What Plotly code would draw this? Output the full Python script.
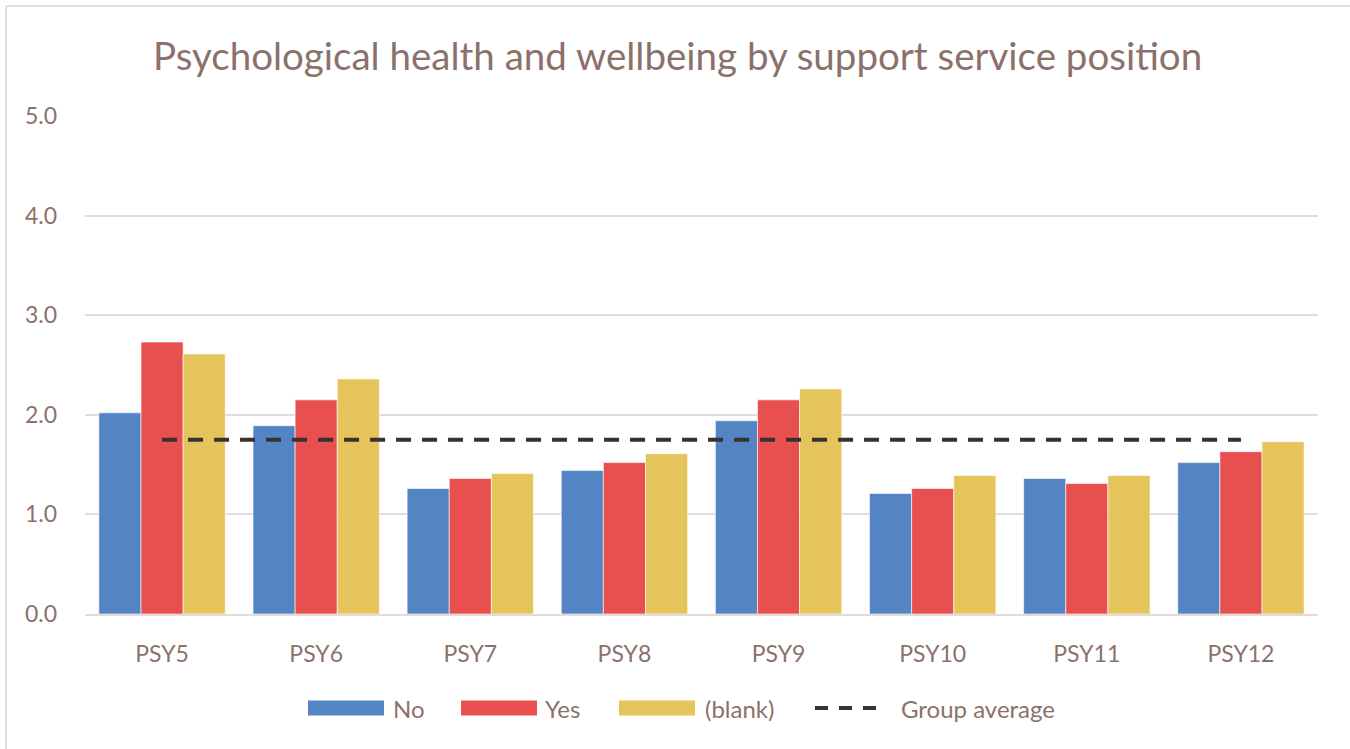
import plotly.graph_objects as go

# Survey items on the x axis
categories = ["PSY5", "PSY6", "PSY7", "PSY8", "PSY9", "PSY10", "PSY11", "PSY12"]

# Mean scores by support service position
no_vals = [2.02, 1.89, 1.26, 1.44, 1.94, 1.21, 1.36, 1.52]
yes_vals = [2.73, 2.15, 1.36, 1.52, 2.15, 1.26, 1.31, 1.63]
blank_vals = [2.61, 2.36, 1.41, 1.61, 2.26, 1.39, 1.39, 1.73]
group_average = [1.75] * len(categories)

y_ticks = [0, 1, 2, 3, 4, 5]
y_tick_text = ["0.0", "1.0", "2.0", "3.0", "4.0", "5.0"]

series_names = ["No", "Yes", "(blank)", "Group average"]

BLUE = "#5384C3"
RED = "#E84F4F"
YELLOW = "#E5C45C"
DASH = "#3A302D"
TEXT = "#8C716B"
GRID = "#E3DCDA"
FONT = "Lato, 'Open Sans', sans-serif"

W, H = 1350, 749
L, R, T, B = 85, 32, 116, 135
PW, PH = W - L - R, H - T - B


def px_x(px):
    return (px - L) / PW


def px_y(py):
    return (H - B - py) / PH


fig = go.Figure()
for name, vals, col in zip(series_names[:3], [no_vals, yes_vals, blank_vals], [BLUE, RED, YELLOW]):
    fig.add_trace(go.Bar(
        x=categories, y=vals, name=name,
        marker=dict(color=col, line=dict(color="rgba(255,255,255,0.6)", width=1)),
        showlegend=False,
    ))

fig.add_trace(go.Scatter(
    x=categories, y=group_average, name=series_names[3], mode="lines",
    line=dict(color=DASH, width=4, dash="15px,11px"),
    showlegend=False,
))

# Legend drawn as swatches + labels beneath the plot
shapes = []
annotations = []
legend_y = 708
swatches = [(308, 384, BLUE, 391), (461, 537, RED, 543), (619, 695, YELLOW, 703)]
for (x0, x1, col, tx), name in zip(swatches, series_names[:3]):
    shapes.append(dict(type="rect", xref="paper", yref="paper",
                       x0=px_x(x0), x1=px_x(x1), y0=px_y(legend_y + 7.5), y1=px_y(legend_y - 7.5),
                       fillcolor=col, line=dict(width=0)))
    annotations.append(dict(text=name, xref="paper", yref="paper", x=px_x(tx), y=px_y(legend_y),
                            xanchor="left", yanchor="middle", showarrow=False,
                            font=dict(family=FONT, size=24, color=TEXT)))
shapes.append(dict(type="line", xref="paper", yref="paper",
                   x0=px_x(815), x1=px_x(879), y0=px_y(legend_y), y1=px_y(legend_y),
                   line=dict(color=DASH, width=4, dash="13px,11px")))
annotations.append(dict(text=series_names[3], xref="paper", yref="paper", x=px_x(899), y=px_y(legend_y),
                        xanchor="left", yanchor="middle", showarrow=False,
                        font=dict(family=FONT, size=24, color=TEXT)))

# Chart-area border (left and top edges visible)
shapes.append(dict(type="line", xref="paper", yref="paper",
                   x0=px_x(6), x1=px_x(6), y0=px_y(6), y1=px_y(760),
                   line=dict(color="#DCD6D4", width=1.5)))
shapes.append(dict(type="line", xref="paper", yref="paper",
                   x0=px_x(6), x1=px_x(1360), y0=px_y(6), y1=px_y(6),
                   line=dict(color="#DCD6D4", width=1.5)))

annotations.append(dict(text="Psychological health and wellbeing by support service position",
                        xref="paper", yref="paper", x=px_x(677), y=px_y(55),
                        xanchor="center", yanchor="middle", showarrow=False,
                        font=dict(family=FONT, size=38.5, color=TEXT)))

fig.update_layout(
    width=W, height=H,
    margin=dict(l=L, r=R, t=T, b=B, pad=0),
    paper_bgcolor="white", plot_bgcolor="white",
    barmode="group", bargap=0.18, bargroupgap=0,
    shapes=shapes, annotations=annotations,
    font=dict(family=FONT, color=TEXT),
    xaxis=dict(showgrid=False, showline=True, linecolor=GRID, linewidth=2,
               ticks="", tickfont=dict(size=23, color=TEXT), ticklabelstandoff=18),
    yaxis=dict(range=[0, 5], tickvals=y_ticks, ticktext=y_tick_text,
               showgrid=True, gridcolor=GRID, gridwidth=1.5, zeroline=False,
               showline=False, ticks="", tickfont=dict(size=23, color=TEXT),
               ticklabelstandoff=27),
)

fig.write_html("out.html")
